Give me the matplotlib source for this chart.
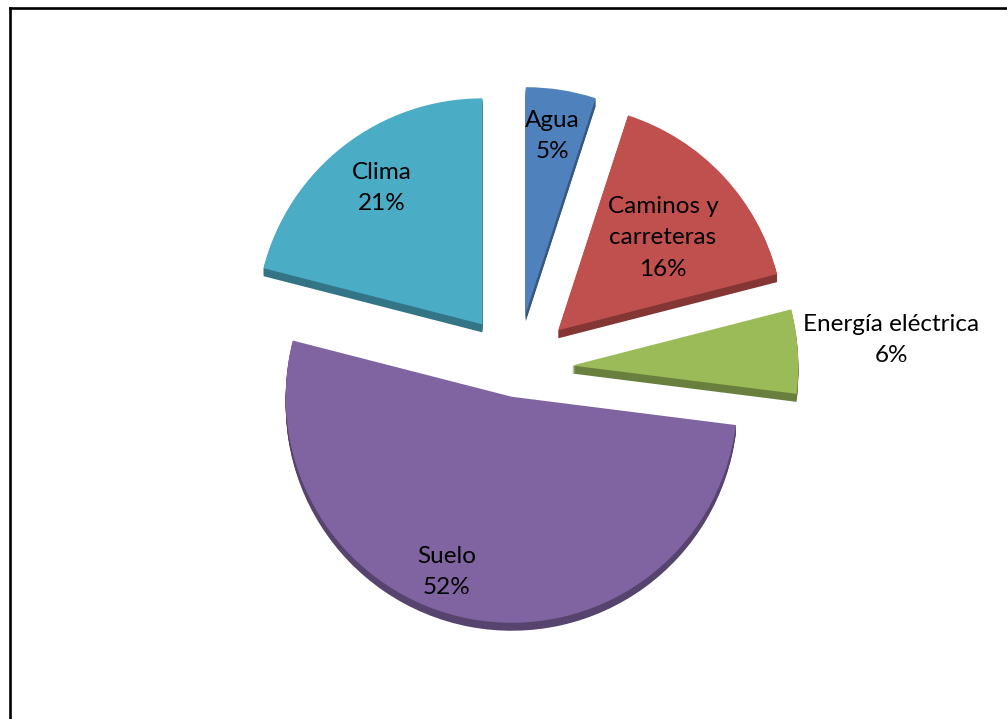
import matplotlib
matplotlib.use("Agg")
import matplotlib.pyplot as plt
from matplotlib.lines import Line2D
from matplotlib.colors import to_rgb

# Pie data (clockwise from 12 o'clock)
categories = ["Agua", "Caminos y\ncarreteras", "Energía eléctrica", "Suelo", "Clima"]
shares = [5, 16, 6, 52, 21]
face_colors = ["#4F81BD", "#C0504D", "#9BBB59", "#8064A2", "#4BACC6"]
explode = [0.25, 0.25, 0.245, 0.125, 0.25]

# label anchors (in pie-radius units, relative to pie centre)
label_xy = [(0.155, 1.03), (0.646, 0.58), (1.655, 0.13), (-0.31, -0.90), (-0.60, 0.80)]

W, H = 1007, 719
R_PX = 226          # pie radius in pixels
CX, CY = 517, 369   # pie centre, pixels from top-left
DEPTH_PX = 8        # thickness of the extruded pie

side_colors = [tuple(c * 0.68 for c in to_rgb(col)) for col in face_colors]

fig = plt.figure(figsize=(W / 100, H / 100), dpi=100)
ax = fig.add_axes([0, 0, 1, 1])

# extruded side: stack of darker pies shifted downwards
for k in range(DEPTH_PX, 0, -1):
    ax.pie(shares, explode=explode, startangle=90, counterclock=False,
           colors=side_colors, center=(0, -k / R_PX), radius=1,
           wedgeprops=dict(linewidth=0, antialiased=True))

# top faces
wedges, _ = ax.pie(shares, explode=explode, startangle=90, counterclock=False,
                   colors=face_colors, center=(0, 0), radius=1,
                   wedgeprops=dict(linewidth=0))

for name, val, (lx, ly) in zip(categories, shares, label_xy):
    ax.text(lx, ly, f"{name}\n{val}%", ha="center", va="center",
            fontsize=17.5, family="Lato", color="black", linespacing=1.6)

ax.set_aspect("auto")
ax.set_xlim(-CX / R_PX, (W - CX) / R_PX)
ax.set_ylim(-(H - CY) / R_PX, CY / R_PX)
ax.axis("off")

# chart frame (top and left edges)
fig.add_artist(Line2D([9.5 / W, 1.0], [1 - 8 / H, 1 - 8 / H],
                      transform=fig.transFigure, color="black", lw=1.9,
                      solid_capstyle="projecting"))
fig.add_artist(Line2D([9.5 / W, 9.5 / W], [0.0, 1 - 8 / H],
                      transform=fig.transFigure, color="black", lw=1.9,
                      solid_capstyle="projecting"))

fig.savefig("out.png", dpi=100, facecolor="white")
